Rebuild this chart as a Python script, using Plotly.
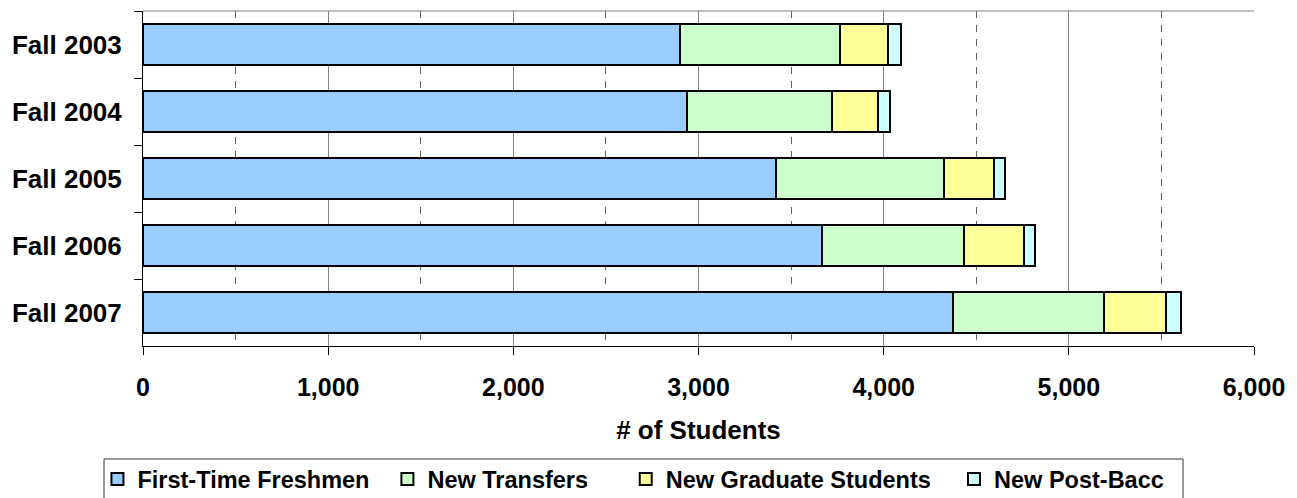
import plotly.graph_objects as go

categories = ["Fall 2003", "Fall 2004", "Fall 2005", "Fall 2006", "Fall 2007"]
series_names = ["First-Time Freshmen", "New Transfers", "New Graduate Students", "New Post-Bacc"]
first_time_freshmen = [2901, 2936, 3421, 3668, 4372]
new_transfers = [864, 786, 906, 767, 819]
new_graduate = [259, 248, 270, 324, 336]
new_post_bacc = [67, 65, 56, 56, 78]
colors = ["#99CCFF", "#CCFFCC", "#FFFF99", "#CCFFFF"]
x_tick_vals = [0, 1000, 2000, 3000, 4000, 5000, 6000]
x_tick_text = ["0", "1,000", "2,000", "3,000", "4,000", "5,000", "6,000"]

FONT = "Liberation Sans, Arial, sans-serif"

legend_ids = ["legend", "legend2", "legend3", "legend4"]
legend_x = [-0.0410, 0.2200, 0.4345, 0.7300]
legend_y = -0.3320

fig = go.Figure()
for name, vals, col, lid in zip(series_names,
                                [first_time_freshmen, new_transfers, new_graduate, new_post_bacc],
                                colors, legend_ids):
    fig.add_trace(go.Bar(
        y=categories, x=vals, name=name, orientation="h",
        marker=dict(color=col, line=dict(color="black", width=2)),
        legend=lid,
    ))

legend_common = dict(
    orientation="h", xanchor="left", yanchor="top",
    bgcolor="rgba(0,0,0,0)", borderwidth=0,
    font=dict(family=FONT, size=23.5, color="black", weight="bold"),
)
legend_layout = {}
for lid, lx in zip(legend_ids, legend_x):
    legend_layout[lid] = dict(legend_common, x=lx, y=legend_y)

fig.update_layout(
    barmode="stack",
    bargap=0.4,
    width=1297, height=498,
    margin=dict(l=135, r=51, t=3, b=160),
    plot_bgcolor="white", paper_bgcolor="white",
    font=dict(family=FONT, color="black", size=24, weight="bold"),
    showlegend=True,
    xaxis=dict(
        range=[0, 6000],
        tickvals=x_tick_vals, ticktext=x_tick_text,
        ticks="outside", ticklen=8, tickcolor="black", tickwidth=1,
        showline=True, linecolor="black", linewidth=1,
        showgrid=True, gridcolor="#808080", gridwidth=1,
        minor=dict(dtick=500, showgrid=True, gridcolor="#606060", griddash="7px,7px", gridwidth=1, ticks=""),
        tickfont=dict(size=25, family=FONT, weight="bold"),
        ticklabelstandoff=11,
        zeroline=False,
        title=dict(text="# of Students", font=dict(size=26, family=FONT, weight="bold"), standoff=20),
        fixedrange=True,
    ),
    yaxis=dict(
        autorange="reversed",
        type="category",
        tickson="boundaries",
        ticks="outside", ticklen=8, tickcolor="black", tickwidth=1,
        showline=True, linecolor="black", linewidth=1,
        showgrid=False,
        tickfont=dict(size=26, family=FONT, weight="bold"),
        ticklabelstandoff=15,
        fixedrange=True,
    ),
    **legend_layout,
)

# top border of plot area
fig.add_shape(type="line", xref="paper", yref="paper", x0=0, x1=1, y0=1, y1=1,
              line=dict(color="#808080", width=1))
# legend frame
fig.add_shape(type="rect", xref="paper", yref="paper",
              x0=-0.0351, x1=0.9361, y0=-0.49, y1=-0.3373,
              line=dict(color="#333333", width=1), fillcolor="rgba(0,0,0,0)")

fig.write_html("out.html")
